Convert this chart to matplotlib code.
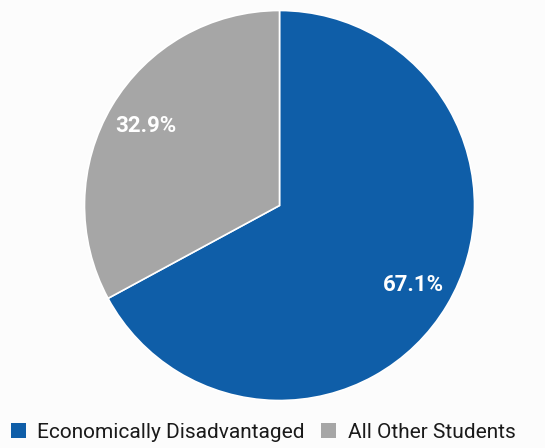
import matplotlib.pyplot as plt
from matplotlib.patches import Patch

# student share by economic status
labels = ['Economically Disadvantaged', 'All Other Students']
shares = [67.1, 32.9]
colors = ['#0f5ea8', '#a6a6a6']

plt.rcParams['font.family'] = ['Roboto', 'DejaVu Sans']

fig = plt.figure(figsize=(5.45, 4.48), dpi=100, facecolor='#fcfcfc')
ax = fig.add_axes([84.5 / 545, 47.5 / 448, 390 / 545, 390 / 448])
ax.set_facecolor('#fcfcfc')

wedges, texts, autotexts = ax.pie(shares, colors=colors, startangle=90, counterclock=False,
                                  autopct='%1.1f%%', pctdistance=0.8,
                                  wedgeprops={'edgecolor': 'white', 'linewidth': 1.2},
                                  textprops={'color': 'white', 'fontsize': 16, 'fontweight': 'bold'})
ax.set_xlim(-1, 1)
ax.set_ylim(-1, 1)
ax.set_aspect('equal')

handles = [Patch(facecolor=c, edgecolor='none') for c in colors]
fig.legend(handles, labels, loc='center', bbox_to_anchor=(0.483, 1 - 432 / 448), ncol=2,
           frameon=False, fontsize=15, handlelength=0.72, handleheight=0.72,
           handletextpad=0.55, columnspacing=0.8, labelcolor='#1a1a1a')

fig.savefig('out.png', dpi=100, facecolor=fig.get_facecolor())
